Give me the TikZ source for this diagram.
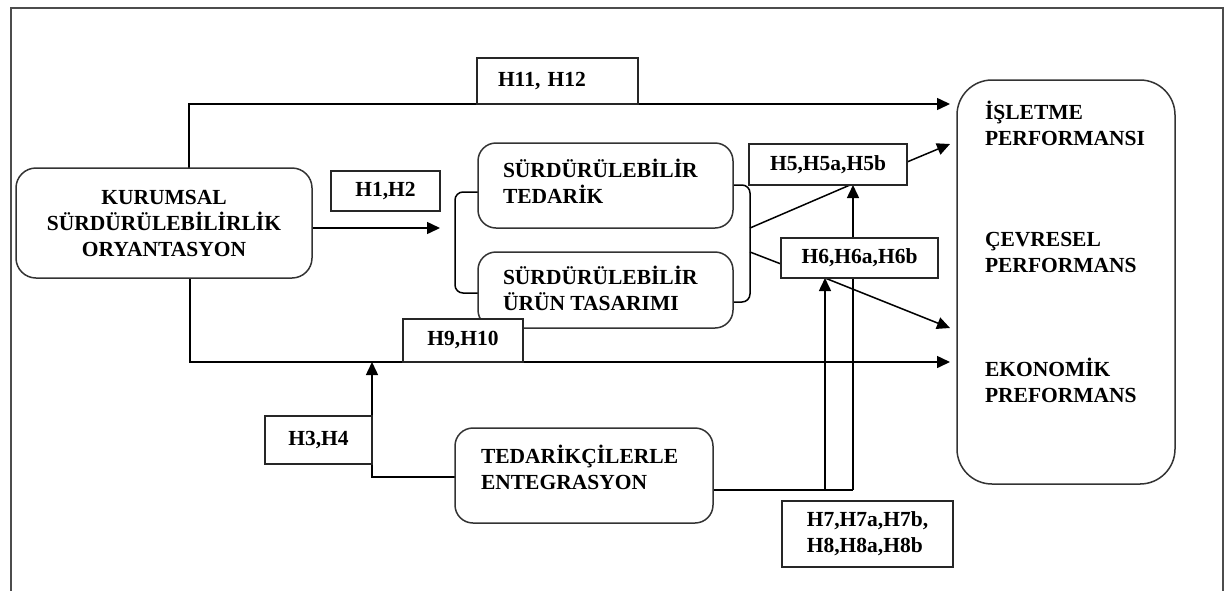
\documentclass[tikz,border=0pt]{standalone}
\usepackage{fontspec}
\setmainfont{Liberation Serif}
\usetikzlibrary{arrows.meta,backgrounds}

\begin{document}
\begin{tikzpicture}[
    x=1pt, y=-1pt,
    font=\fontsize{21.5}{26}\selectfont\bfseries,
    every node/.style={inner sep=0pt, outer sep=0pt},
    conn/.style={draw=black, line width=1.5pt},
    arr/.style={conn, -{Triangle[length=13pt,width=12pt]}},
    hbox/.style={draw=black!85, line width=1.5pt, fill=white, align=center},
    rbox/.style={draw=black!80, line width=1.5pt, fill=white, rounded corners=18pt},
    txt/.style={align=left, anchor=west},
]
\useasboundingbox (0,0) rectangle (1228,590);
\clip (0,0) rectangle (1228,590);

% outer frame
\draw[draw=black!70, line width=2pt] (11,8) rectangle (1223,620);

% main constructs
\node[rbox, rounded corners=20pt, minimum width=296pt, minimum height=110pt, align=center]
  (kur) at (164,223) {KURUMSAL\\SÜRDÜRÜLEBİLİRLİK\\ORYANTASYON};

\node[rbox, minimum width=255pt, minimum height=85pt] (ted) at (605.5,185.5) {};
\node[txt] (tedT) at (503,181) {SÜRDÜRÜLEBİLİR\\TEDARİK};

\node[rbox, minimum width=255pt, minimum height=76pt] (urun) at (605.5,290) {};
\node[txt] (urunT) at (503,288.5) {SÜRDÜRÜLEBİLİR\\ÜRÜN TASARIMI};

\node[rbox, minimum width=258pt, minimum height=95pt] (ent) at (584,475.5) {};
\node[txt] (entT) at (481,467.5) {TEDARİKÇİLERLE\\ENTEGRASYON};

\node[rbox, rounded corners=35pt, minimum width=218pt, minimum height=404pt] (perf) at (1066,282) {};
\node[txt] (isl) at (985,123) {İŞLETME\\PERFORMANSI};
\node[txt] (cev) at (985,252) {ÇEVRESEL\\PERFORMANS};
\node[txt] (eko) at (985,380) {EKONOMİK\\PREFORMANS};

% hypothesis labels
\node[hbox, minimum width=161pt, minimum height=46pt, text width=119pt, inner xsep=21pt, align=left]
  (h1112) at (557.5,81) {H11, H12};
\node[hbox, minimum width=109pt, minimum height=40pt] (h12) at (385.5,191) {H1,H2};
\node[hbox, minimum width=158pt, minimum height=41pt] (h5) at (828,164.5) {H5,H5a,H5b};
\node[hbox, minimum width=157pt, minimum height=40pt] (h6) at (859.5,258) {H6,H6a,H6b};
\node[hbox, minimum width=120pt, minimum height=43pt] (h910) at (463,340.5) {H9,H10};
\node[hbox, minimum width=107pt, minimum height=48pt] (h34) at (318.5,440) {H3,H4};
\node[hbox, minimum width=171pt, minimum height=66pt, align=left] (h78) at (867.5,534) {H7,H7a,H7b,\\H8,H8a,H8b};

% junction and end points
\coordinate (tipTop) at (950,104);
\coordinate (tipH12) at (440,228);
\coordinate (tipH5) at (950,144);
\coordinate (tipH6) at (950,328);
\coordinate (tipH9) at (950,362);
\coordinate (jH3) at (372,362);
\coordinate (jA) at (825,490);
\coordinate (jB) at (853,490);

\begin{scope}[on background layer]
  % direct paths from the orientation construct
  \draw[arr] ([xshift=25pt]kur.north) |- (tipTop);
  \draw[arr] ([xshift=26pt]kur.south) |- (tipH9);
  \draw[arr] (kur.east |- tipH12) -- (tipH12);

  % brackets grouping the two sustainability constructs
  \draw[conn, rounded corners=8pt] (ted.west |- 0,192) -- (455,192) -- (455,293) -- (urun.west |- 0,293);
  \draw[conn, rounded corners=8pt] (ted.east |- 0,185) -- (750,185) -- (750,302) -- (urun.east |- 0,302);

  % mediation paths
  \draw[conn] (750,228) -- (h5.south -| 850,0);
  \draw[conn] (750,252) -- (h6.west |- 0,264);
  \draw[arr] (h5.east |- 0,162) -- (tipH5);
  \draw[arr] (h6.south -| jA) -- (tipH6);

  % moderation paths from supplier integration
  \draw[conn] (ent.east |- jA) -- (jB);
  \draw[arr] (jA) -- (h6.south -| jA);
  \draw[arr] (jB) -- (h5.south -| jB);
  \draw[arr] (ent.west |- 0,477) -| (jH3);
\end{scope}
\end{tikzpicture}
\end{document}
